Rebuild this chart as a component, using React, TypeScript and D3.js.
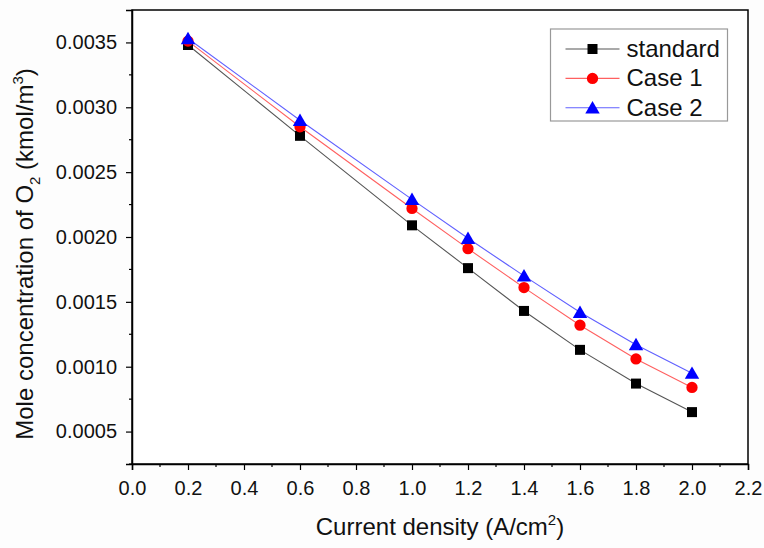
import React, { useRef, useEffect } from 'react';
import * as d3 from 'd3';

const currentDensity = [0.2, 0.6, 1.0, 1.2, 1.4, 1.6, 1.8, 2.0];
const standardValues = [0.00348, 0.00278, 0.00209, 0.00176, 0.00143, 0.00113, 0.00087, 0.00065];
const case1Values = [0.00351, 0.00285, 0.00222, 0.00191, 0.00161, 0.00132, 0.00106, 0.00084];
const case2Values = [0.00353, 0.0029, 0.00229, 0.00199, 0.0017, 0.00142, 0.00117, 0.00095];
const seriesNames = ['standard', 'Case 1', 'Case 2'];
const xTicks = [0, 0.2, 0.4, 0.6, 0.8, 1.0, 1.2, 1.4, 1.6, 1.8, 2.0, 2.2];
const yTicks = [0.0005, 0.001, 0.0015, 0.002, 0.0025, 0.003, 0.0035];

function App() {
  const ref = useRef<SVGSVGElement>(null);

  useEffect(() => {
    const svg = d3.select(ref.current);
    svg.selectAll('*').remove();

    const margin = { top: 10, right: 16, bottom: 84, left: 132 };
    const width = 764 - margin.left - margin.right;
    const height = 548 - margin.top - margin.bottom;
    const font = 'Liberation Sans, Arial, sans-serif';

    const x = d3.scaleLinear().domain([0, 2.2]).range([0, width]);
    const y = d3.scaleLinear().domain([0.00025, 0.00375]).range([height, 0]);

    const g = svg.append('g').attr('transform', `translate(${margin.left},${margin.top})`);

    // frame
    g.append('rect')
      .attr('width', width).attr('height', height)
      .attr('fill', 'white').attr('stroke', '#000').attr('stroke-width', 1.5);

    // minor ticks
    const xMinor = d3.range(0.1, 2.2, 0.2);
    g.selectAll('.xminor').data(xMinor).enter().append('line')
      .attr('x1', (d) => x(d)).attr('x2', (d) => x(d))
      .attr('y1', height).attr('y2', height + 3)
      .attr('stroke', '#000').attr('stroke-width', 1.2);
    const yMinor = [0.00025, 0.00075, 0.00125, 0.00175, 0.00225, 0.00275, 0.00325];
    g.selectAll('.yminor').data(yMinor).enter().append('line')
      .attr('x1', -3).attr('x2', 0)
      .attr('y1', (d) => y(d)).attr('y2', (d) => y(d))
      .attr('stroke', '#000').attr('stroke-width', 1.2);

    const xAxis = g.append('g')
      .attr('transform', `translate(0,${height})`)
      .call(d3.axisBottom(x).tickValues(xTicks).tickFormat(d3.format('.1f')).tickSize(6).tickPadding(11));
    const yAxis = g.append('g')
      .call(d3.axisLeft(y).tickValues(yTicks).tickFormat(d3.format('.4f')).tickSize(6).tickPadding(9));

    [xAxis, yAxis].forEach((a) => {
      a.select('.domain').attr('stroke-width', 1.5);
      a.selectAll('.tick line').attr('stroke-width', 1.2);
      a.selectAll('text').attr('font-family', font).attr('font-size', 20).attr('fill', '#111');
    });

    const series = [
      { name: seriesNames[0], values: standardValues, color: '#000', line: '#555', shape: 'square' },
      { name: seriesNames[1], values: case1Values, color: '#ff0000', line: '#ff6060', shape: 'circle' },
      { name: seriesNames[2], values: case2Values, color: '#0000ff', line: '#6060ff', shape: 'triangle' },
    ];

    const symbolFor = (shape: string) =>
      shape === 'square' ? d3.symbol(d3.symbolSquare, 100)
        : shape === 'circle' ? d3.symbol(d3.symbolCircle, 100)
          : d3.symbol(d3.symbolTriangle, 90);

    const line = d3.line<number>()
      .x((_, i) => x(currentDensity[i]))
      .y((d) => y(d));

    series.forEach((s) => {
      g.append('path')
        .attr('d', line(s.values))
        .attr('fill', 'none').attr('stroke', s.line).attr('stroke-width', 1.1);
    });
    series.forEach((s) => {
      g.selectAll(null).data(s.values).enter().append('path')
        .attr('d', symbolFor(s.shape))
        .attr('transform', (d, i) => `translate(${x(currentDensity[i])},${y(d) + (s.shape === 'triangle' ? 1.5 : 0)})`)
        .attr('fill', s.color);
    });

    // legend
    const lg = g.append('g').attr('transform', `translate(${550.5 - margin.left},${29 - margin.top})`);
    lg.append('rect').attr('width', 177).attr('height', 92)
      .attr('fill', 'white').attr('stroke', '#999').attr('stroke-width', 1.2);
    series.forEach((s, i) => {
      const cy = 20 + i * 29.4;
      lg.append('line').attr('x1', 15).attr('x2', 69).attr('y1', cy).attr('y2', cy)
        .attr('stroke', s.line).attr('stroke-width', 1.1);
      lg.append('path').attr('d', symbolFor(s.shape))
        .attr('transform', `translate(42,${cy + (s.shape === 'triangle' ? 1.5 : 0)})`)
        .attr('fill', s.color);
      lg.append('text').attr('x', 76).attr('y', cy + 8)
        .attr('font-family', font).attr('font-size', 24).attr('fill', '#111')
        .text(s.name);
    });

    // axis titles
    const xt = svg.append('text')
      .attr('x', 440).attr('y', 535)
      .attr('text-anchor', 'middle').attr('font-family', font).attr('font-size', 24).attr('fill', '#111');
    xt.append('tspan').text('Current density (A/cm');
    xt.append('tspan').attr('dy', -10).attr('font-size', 15).text('2');
    xt.append('tspan').attr('dy', 10).text(')');

    const yt = svg.append('text')
      .attr('transform', `translate(33,254) rotate(-90)`)
      .attr('text-anchor', 'middle').attr('font-family', font).attr('font-size', 24).attr('fill', '#111');
    yt.append('tspan').text('Mole concentration of O');
    yt.append('tspan').attr('dy', 7).attr('font-size', 15).text('2');
    yt.append('tspan').attr('dy', -7).text(' (kmol/m');
    yt.append('tspan').attr('dy', -10).attr('font-size', 15).text('3');
    yt.append('tspan').attr('dy', 10).text(')');
  }, []);

  return (
    <svg ref={ref} width={764} height={548}
      style={{ position: 'absolute', left: 0, top: 0, background: '#fdfdfd' }} />
  );
}

export default App;
